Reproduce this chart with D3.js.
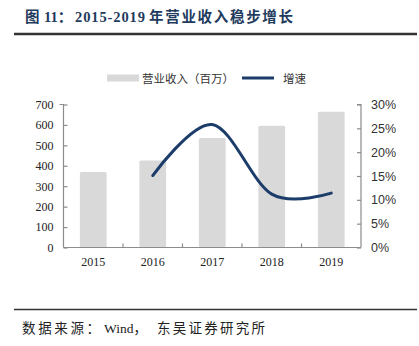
<!DOCTYPE html>
<html>
<head>
<meta charset="utf-8">
<script src="https://cdn.jsdelivr.net/npm/d3@7"></script>
<style>
  html, body { margin: 0; padding: 0; background: #fff; }
  svg { display: block; }
</style>
</head>
<body>
<svg id="chart" width="419" height="346"></svg>
<script>
// Revenue (million) and year-on-year growth, 2015–2019
const years = ["2015", "2016", "2017", "2018", "2019"];
const revenue = [370, 426, 536, 596, 664];
const growthYears = ["2016", "2017", "2018", "2019"];
const growth = [0.151, 0.258, 0.112, 0.114];
const leftTicks = [0, 100, 200, 300, 400, 500, 600, 700];
const rightTicks = [0, 0.05, 0.10, 0.15, 0.20, 0.25, 0.30];

// Header and footer pieces: [text, x, width (null = natural)]
const titleParts = [["图", 25, null], ["11：", 44, null], ["2015-2019", 75, 70], ["年营业收入稳步增长", 149, 144]];
const sourceParts = [["数据来源：", 22, 78], ["Wind，", 104, null], ["东吴证券研究所", 157, 108]];
const legendBar = "营业收入（百万）";
const legendLine = "增速";

const svg = d3.select("#chart");
const serif = "'Liberation Serif', 'Times New Roman', 'Noto Sans CJK SC', serif";
const sans = "'Liberation Sans', Arial, 'Noto Sans CJK SC', sans-serif";
const cjk = "'Noto Sans CJK SC', sans-serif";
const axisColor = "#8c8c8c";

function placeParts(sel, parts) {
  sel.selectAll("tspan").data(parts).join("tspan")
    .attr("x", d => d[1])
    .each(function (d) {
      if (d[2] != null) d3.select(this).attr("textLength", d[2]).attr("lengthAdjust", "spacing");
    })
    .text(d => d[0]);
}

// Header
const title = svg.append("text")
  .attr("y", 22)
  .attr("font-family", serif)
  .attr("font-weight", "bold")
  .attr("font-size", 14.5)
  .attr("fill", "#1f3b5e");
placeParts(title, titleParts);
svg.append("line")
  .attr("x1", 14).attr("x2", 417).attr("y1", 34).attr("y2", 34)
  .attr("stroke", "#333").attr("stroke-width", 2.5);

// Footer
svg.append("line")
  .attr("x1", 14).attr("x2", 417).attr("y1", 309.5).attr("y2", 309.5)
  .attr("stroke", "#333").attr("stroke-width", 1.5);
const source = svg.append("text")
  .attr("y", 333)
  .attr("font-family", serif)
  .attr("font-size", 13.5)
  .attr("fill", "#222");
placeParts(source, sourceParts);

// Plot area
const x0 = 63.5, x1 = 361, yTop = 104.5, yBot = 247.5;

const x = d3.scaleBand().domain(years).range([x0, x1]).paddingInner(0.55).paddingOuter(0.275);
const yL = d3.scaleLinear().domain([0, 700]).range([yBot, yTop]);
const yR = d3.scaleLinear().domain([0, 0.30]).range([yBot, yTop]);

// Bars
svg.append("g").selectAll("rect")
  .data(years.map((y, i) => ({ y, v: revenue[i] })))
  .join("rect")
  .attr("x", d => x(d.y))
  .attr("width", x.bandwidth())
  .attr("y", d => yL(d.v))
  .attr("height", d => yBot - yL(d.v))
  .attr("rx", 1.5)
  .attr("fill", "#d9d9d9");

// Left axis
const leftAxis = d3.axisLeft(yL).tickValues(leftTicks).tickSize(-4).tickPadding(10).tickFormat(d3.format("d"));
const gL = svg.append("g").attr("transform", `translate(${x0},0)`).call(leftAxis);
gL.select(".domain").attr("stroke", axisColor).attr("stroke-width", 1.2).attr("d", `M-4,${yTop}H0V${yBot}`);
gL.selectAll(".tick line").attr("stroke", axisColor).attr("stroke-width", 1.2);
gL.selectAll(".tick text").attr("font-family", serif).attr("font-size", 12).attr("fill", "#222");

// Right axis
const rightAxis = d3.axisRight(yR).tickValues(rightTicks).tickSize(-4).tickPadding(10).tickFormat(d3.format(".0%"));
const gR = svg.append("g").attr("transform", `translate(${x1},0)`).call(rightAxis);
gR.select(".domain").attr("stroke", axisColor).attr("stroke-width", 1.2).attr("d", `M-4,${yTop}H0V${yBot}`);
gR.selectAll(".tick line").attr("stroke", axisColor).attr("stroke-width", 1.2);
gR.selectAll(".tick text").attr("font-family", sans).attr("font-size", 12.5).attr("fill", "#333");

// Bottom axis: ticks at category boundaries
const xAxis = d3.axisBottom(x).tickSize(0).tickPadding(10);
const gB = svg.append("g").attr("transform", `translate(0,${yBot})`).call(xAxis);
gB.select(".domain").attr("stroke", axisColor).attr("stroke-width", 1.2).attr("d", `M${x0},0H${x1}`);
gB.selectAll(".tick text").attr("font-family", serif).attr("font-size", 12).attr("fill", "#222");
const gap = (x.step() - x.bandwidth()) / 2;
gB.append("g").selectAll("line")
  .data(years.slice(1))
  .join("line")
  .attr("x1", d => x(d) - gap)
  .attr("x2", d => x(d) - gap)
  .attr("y1", 0).attr("y2", -4)
  .attr("stroke", axisColor).attr("stroke-width", 1.2);

// Growth line
const line = d3.line()
  .x((d, i) => x(growthYears[i]) + x.bandwidth() / 2)
  .y(d => yR(d))
  .curve(d3.curveCardinal.tension(0));
svg.append("path")
  .datum(growth)
  .attr("d", line)
  .attr("fill", "none")
  .attr("stroke", "#1c3d6a")
  .attr("stroke-width", 3)
  .attr("stroke-linecap", "round");

// Legend
const lg = svg.append("g");
lg.append("rect").attr("x", 107).attr("y", 74.5).attr("width", 32).attr("height", 7).attr("fill", "#d9d9d9");
lg.append("text").attr("x", 142).attr("y", 82.5)
  .attr("font-family", cjk).attr("font-size", 11.5).attr("fill", "#333").text(legendBar);
lg.append("line").attr("x1", 242).attr("x2", 274).attr("y1", 78).attr("y2", 78)
  .attr("stroke", "#1c3d6a").attr("stroke-width", 3);
lg.append("text").attr("x", 283).attr("y", 82.5)
  .attr("font-family", cjk).attr("font-size", 11.5).attr("fill", "#333").text(legendLine);
</script>
</body>
</html>
